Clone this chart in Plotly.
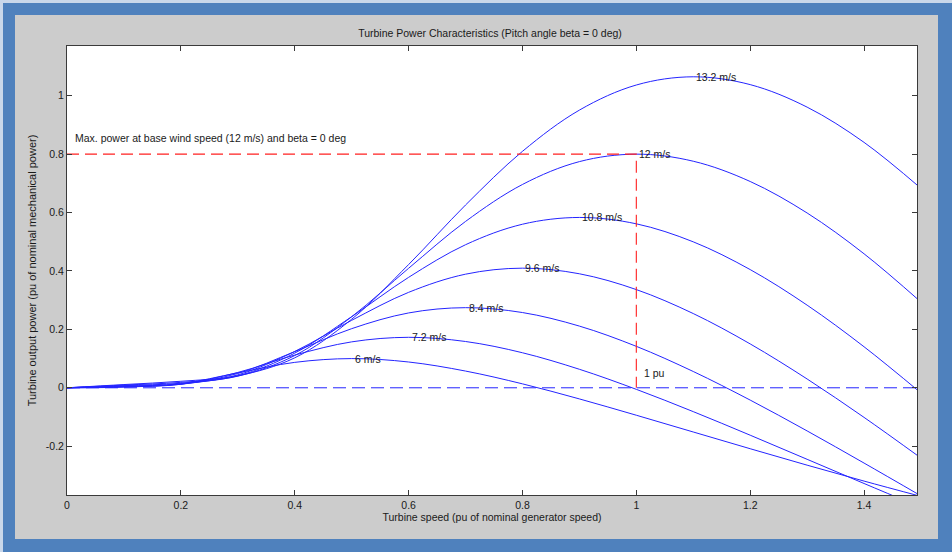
import plotly.graph_objects as go

# ---------------- data ----------------
speed = [0.0, 0.1, 0.2, 0.3, 0.4, 0.5, 0.6, 0.7, 0.8, 0.9, 1.0, 1.1, 1.2, 1.3, 1.4, 1.5]

wind_labels = ["6 m/s", "7.2 m/s", "8.4 m/s", "9.6 m/s", "10.8 m/s", "12 m/s", "13.2 m/s"]

power_6_0 = [0, 0.0023, 0.0138, 0.0511, 0.0870, 0.1000, 0.0883, 0.0573, 0.0135, -0.0381,
             -0.0939, -0.1513, -0.2086, -0.2649, -0.3194, -0.3718]
power_7_2 = [0, 0.0033, 0.0121, 0.0525, 0.1120, 0.1572, 0.1728, 0.1585, 0.1199, 0.0634,
             -0.0053, -0.0816, -0.1623, -0.2448, -0.3276, -0.4094]
power_8_4 = [0, 0.0045, 0.0119, 0.0490, 0.1237, 0.2024, 0.2562, 0.2743, 0.2576, 0.2112,
             0.1419, 0.0558, -0.0421, -0.1476, -0.2577, -0.3700]
power_9_6 = [0, 0.0059, 0.0131, 0.0443, 0.1245, 0.2309, 0.3267, 0.3889, 0.4095, 0.3903,
             0.3362, 0.2541, 0.1502, 0.0302, -0.1013, -0.2405]
power_10_8 = [0, 0.0074, 0.0155, 0.0409, 0.1187, 0.2434, 0.3780, 0.4897, 0.5599, 0.5831,
              0.5613, 0.4996, 0.4046, 0.2829, 0.1404, -0.0179]
power_12_0 = [0, 0.0092, 0.0186, 0.0398, 0.1104, 0.2432, 0.4090, 0.5694, 0.6960, 0.7742,
              0.7998, 0.7756, 0.7062, 0.5984, 0.4587, 0.2934]
power_13_2 = [0, 0.0111, 0.0223, 0.0411, 0.1026, 0.2347, 0.4218, 0.6256, 0.8094, 0.9505,
              1.0365, 1.0646, 1.0378, 0.9607, 0.8401, 0.6826]

# label anchors: the peak of each curve
peak_speed = [0.5, 0.6, 0.7, 0.8, 0.9, 1.0, 1.1]
peak_power = [0.100, 0.1728, 0.2743, 0.4095, 0.5831, 0.7998, 1.0646]

# base-point reference (red dashed) and zero line (blue dashed)
base_x = [0.0, 1.0, 1.0]
base_y = [0.8, 0.8, 0.0]
zero_x = [0.0, 1.5]
zero_y = [0.0, 0.0]

base_note = "Max. power at base wind speed (12 m/s) and beta = 0 deg"
base_note_xy = (0.01, 0.855)
pu_note = "1 pu"
pu_note_xy = (1.01, 0.05)

xtick_vals = [0, 0.2, 0.4, 0.6, 0.8, 1.0, 1.2, 1.4]
xtick_text = ["0", "0.2", "0.4", "0.6", "0.8", "1", "1.2", "1.4"]
ytick_vals = [-0.2, 0, 0.2, 0.4, 0.6, 0.8, 1.0]
ytick_text = ["-0.2", "0", "0.2", "0.4", "0.6", "0.8", "1"]

title_text = "Turbine Power Characteristics (Pitch angle beta = 0 deg)"
xlabel = "Turbine speed (pu of nominal generator speed)"
ylabel = "Turbine output power (pu of nominal mechanical power)"

# ---------------- layout constants ----------------
W, H = 952, 552
L, R, T, B = 67, 35, 46, 57
PW, PH = W - L - R, H - T - B
FONT = "Liberation Sans, Arial, sans-serif"
TXT = "#1a1a1a"
AX = "#3a3a3a"
CURVE = "#2424ff"


def px_x(p):
    return (p - L) / PW


def px_y(p):
    return (H - B - p) / PH


fig = go.Figure()

series = [power_6_0, power_7_2, power_8_4, power_9_6, power_10_8, power_12_0, power_13_2]
for name, vals in zip(wind_labels, series):
    fig.add_trace(go.Scatter(x=speed, y=vals, mode="lines", name=name,
                             line=dict(color=CURVE, width=1, shape="spline"),
                             hoverinfo="skip"))

fig.add_trace(go.Scatter(x=zero_x, y=zero_y, mode="lines", hoverinfo="skip",
                         line=dict(color=CURVE, width=1, dash="13px,6px")))
fig.add_trace(go.Scatter(x=base_x, y=base_y, mode="lines", hoverinfo="skip",
                         line=dict(color="#ff2020", width=1.1, dash="12px,6px")))

annotations = []
for lab, xx, yy in zip(wind_labels, peak_speed, peak_power):
    annotations.append(dict(x=xx, y=yy, text=lab, showarrow=False, xanchor="left",
                            yanchor="middle", xshift=1,
                            font=dict(family=FONT, size=10.5, color=TXT)))
annotations.append(dict(x=base_note_xy[0], y=base_note_xy[1], text=base_note, showarrow=False,
                        xanchor="left", yanchor="middle",
                        font=dict(family=FONT, size=10.5, color=TXT)))
annotations.append(dict(x=pu_note_xy[0], y=pu_note_xy[1], text=pu_note, showarrow=False,
                        xanchor="left", yanchor="middle",
                        font=dict(family=FONT, size=10.5, color=TXT)))

shapes = [
    # light edge at top/left of the blue frame
    dict(type="rect", xref="paper", yref="paper", x0=px_x(0), x1=px_x(W), y0=px_y(3), y1=px_y(0),
         fillcolor="#c9d7ea", line=dict(width=0), layer="below"),
    dict(type="rect", xref="paper", yref="paper", x0=px_x(0), x1=px_x(3), y0=px_y(H), y1=px_y(0),
         fillcolor="#c9d7ea", line=dict(width=0), layer="below"),
    # gray figure area
    dict(type="rect", xref="paper", yref="paper", x0=px_x(15), x1=px_x(938), y0=px_y(539), y1=px_y(15),
         fillcolor="#cccccc", line=dict(width=0), layer="below"),
    # white axes area
    dict(type="rect", xref="paper", yref="paper", x0=0, x1=1, y0=0, y1=1,
         fillcolor="#ffffff", line=dict(width=0), layer="below"),
]

fig.update_layout(
    width=W, height=H,
    margin=dict(l=L, r=R, t=T, b=B, pad=0),
    paper_bgcolor="#4f81bd",
    plot_bgcolor="#ffffff",
    showlegend=False,
    hovermode=False,
    font=dict(family=FONT, size=10.5, color=TXT),
    title=dict(text=title_text, x=px_x(490), xref="paper", xanchor="center",
               y=1 - 33 / H, yref="container", yanchor="middle",
               font=dict(family=FONT, size=10.5, color=TXT)),
    annotations=annotations,
    shapes=shapes,
)

fig.update_xaxes(range=[0, 1.493], tickvals=xtick_vals, ticktext=xtick_text,
                 ticks="inside", ticklen=5, tickcolor=AX, showline=True, linecolor=AX,
                 linewidth=1, mirror="allticks", showgrid=False, zeroline=False,
                 tickfont=dict(family=FONT, size=10.5, color=TXT),
                 title=dict(text=xlabel, standoff=4, font=dict(family=FONT, size=10.5, color=TXT)))
fig.update_yaxes(range=[-0.367, 1.170], tickvals=ytick_vals, ticktext=ytick_text,
                 ticks="inside", ticklen=5, tickcolor=AX, showline=True, linecolor=AX,
                 linewidth=1, mirror="allticks", showgrid=False, zeroline=False,
                 tickfont=dict(family=FONT, size=10.5, color=TXT),
                 title=dict(text=ylabel, standoff=6, font=dict(family=FONT, size=11, color=TXT)))

fig.write_html("out.html", config={"displayModeBar": False, "staticPlot": True},
               post_script="document.body.style.margin='0px';document.body.style.overflow='hidden';")
